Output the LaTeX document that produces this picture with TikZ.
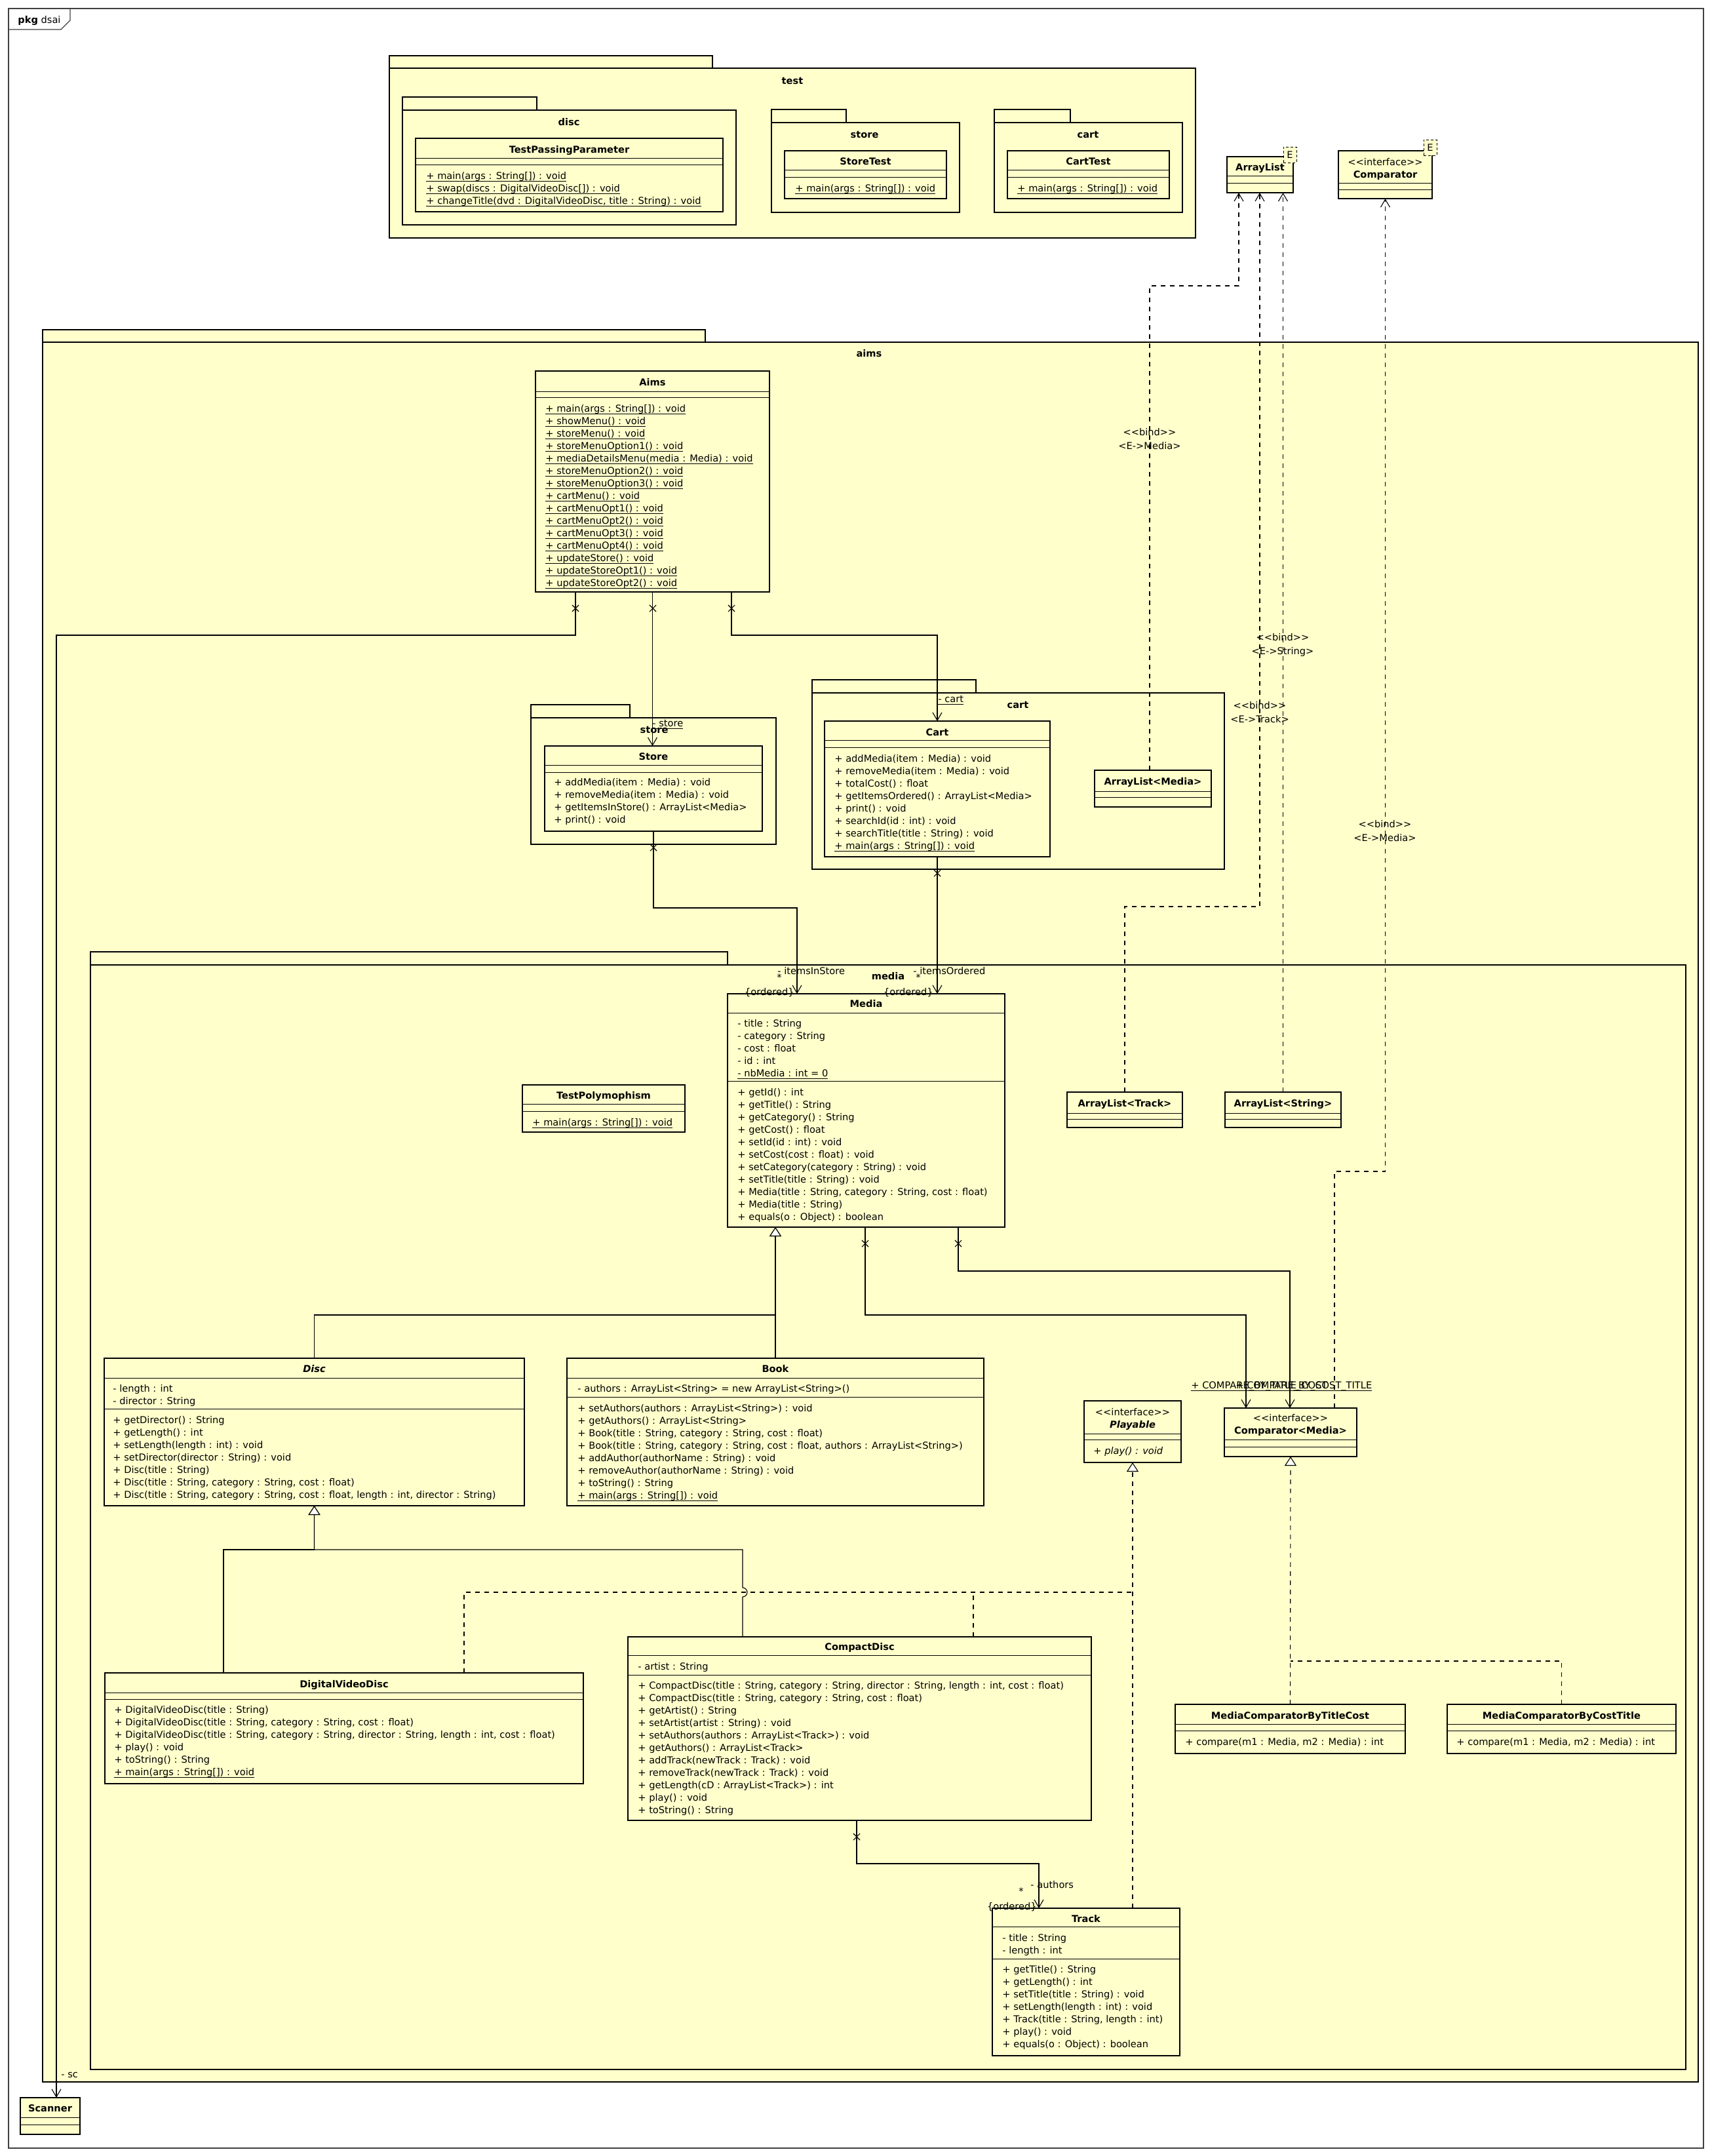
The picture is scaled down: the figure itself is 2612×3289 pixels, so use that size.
\documentclass[tikz,border=0pt]{standalone}
\usepackage{fontspec}
\setmainfont{DejaVu Sans}
\usetikzlibrary{arrows.meta,shapes.misc}
\definecolor{umlfill}{RGB}{255,255,204}
\newcommand\umlfont{\fontsize{7.3}{9.5}\selectfont}
\newcommand\fl{\rule{0pt}{7pt}}
\newcommand\stc[1]{{\setbox0=\hbox{#1}\rlap{\vrule height -1.4pt depth 1.9pt width \wd0}\box0}}
\newcommand\umlrect[6]{\node[#1, minimum width={(#5-#3)*0.5pt}, minimum height={(#6-#4)*0.5pt}] (#2) at (#3,#4) {};}
\newcommand\umlsep[2]{\draw[sep] (#1.west |- 0,#2) -- (#1.east |- 0,#2);}
\tikzset{
  pkg/.style={draw, fill=umlfill, line width=1.1pt, inner sep=0pt, outer sep=0pt, anchor=north west},
  cls/.style={draw, fill=umlfill, line width=1.4pt, inner sep=0pt, outer sep=0pt, anchor=north west},
  tparam/.style={draw, dash pattern=on 2pt off 1.5pt, fill=umlfill, line width=0.5pt, inner sep=0pt, outer sep=0pt, anchor=north west},
  sep/.style={line width=0.5pt},
  cname/.style={font=\umlfont\bfseries, inner sep=0pt, text height=5.3pt, text depth=0pt},
  pname/.style={cname},
  ctext/.style={font=\umlfont, inner sep=0pt, anchor=north west, align=left},
  stereo/.style={font=\umlfont, inner sep=0pt, anchor=north, align=center},
  bindlbl/.style={font=\fontsize{7.3}{10.5}\selectfont, inner sep=0pt, anchor=north, align=center},
  lbl/.style={font=\umlfont, inner sep=0pt, text height=5.3pt, text depth=0pt},
  xmark/.style={cross out, draw, line width=0.55pt, minimum size=4.5pt, inner sep=0pt},
  conn/.style={line width=0.55pt},
  assoc/.style={conn, -{Straight Barb[length=6pt,width=7pt]}},
  gen/.style={conn, -{Triangle[open,length=7pt,width=9pt,fill=white]}},
  realline/.style={conn, dash pattern=on 3.5pt off 3.5pt},
  real/.style={gen, dash pattern=on 3.5pt off 3.5pt},
  bind/.style={assoc, dash pattern=on 3.5pt off 3.5pt},
}
\begin{document}
\begin{tikzpicture}[x=0.5pt, y=-0.5pt]
\useasboundingbox (0,0) rectangle (2612,3289);
\fill[white] (0,0) rectangle (2612,3289);

% outer frame
\umlrect{draw=black!75, line width=0.6pt, inner sep=0pt, outer sep=0pt, anchor=north west}{dsai}{13}{13}{2599}{3277}
\draw[black!75, line width=0.6pt] (dsai.north west |- 0,45) -- (93,45) -- (107,31) -- (107,0 |- dsai.north);
\node[font=\umlfont, inner sep=0pt, anchor=west, text height=5.3pt, text depth=0pt] (dsai-l) at (27,30) {\textbf{pkg} dsai};

% ---------------- package test ----------------
\umlrect{pkg}{test-tab}{594}{85}{1087}{104}
\umlrect{pkg}{test}{594}{104}{1824}{363}
\node[pname] (test-l) at (1209,123) {test};

\umlrect{pkg}{tdisc-tab}{614}{148}{819}{168}
\umlrect{pkg}{tdisc}{614}{168}{1123}{343}
\node[pname] (tdisc-l) at (868,186) {disc};
\umlrect{cls}{tpp}{634}{211}{1103}{323}
\node[cname] (tpp-n) at (tpp.north |- 0,228) {TestPassingParameter};
\umlsep{tpp}{241}\umlsep{tpp}{251}
\node[ctext] (tpp-o) at (650,259) {\fl\stc{+ main(args : String[]) : void}\\
\stc{+ swap(discs : DigitalVideoDisc[]) : void}\\
\stc{+ changeTitle(dvd : DigitalVideoDisc, title : String) : void}};

\umlrect{pkg}{tstore-tab}{1177}{167}{1291}{187}
\umlrect{pkg}{tstore}{1177}{187}{1464}{324}
\node[pname] (tstore-l) at (1319,205) {store};
\umlrect{cls}{st}{1197}{230}{1444}{303}
\node[cname] (st-n) at (st.north |- 0,246) {StoreTest};
\umlsep{st}{259}\umlsep{st}{270}
\node[ctext] (st-o) at (1213,278) {\fl\stc{+ main(args : String[]) : void}};

\umlrect{pkg}{tcart-tab}{1517}{167}{1633}{187}
\umlrect{pkg}{tcart}{1517}{187}{1804}{324}
\node[pname] (tcart-l) at (1660,205) {cart};
\umlrect{cls}{ct}{1537}{230}{1784}{303}
\node[cname] (ct-n) at (ct.north |- 0,246) {CartTest};
\umlsep{ct}{259}\umlsep{ct}{270}
\node[ctext] (ct-o) at (1552,278) {\fl\stc{+ main(args : String[]) : void}};

% ---------------- generic library types ----------------
\umlrect{cls}{arraylist}{1872}{239}{1973}{294}
\node[cname] (arraylist-n) at (arraylist.north |- 0,255) {ArrayList};
\umlsep{arraylist}{268}\umlsep{arraylist}{279}
\umlrect{tparam}{arraylist-e}{1958}{224}{1978}{248}
\node[lbl] (arraylist-el) at (arraylist-e) {E};

\umlrect{cls}{comparator}{2042}{230}{2185}{303}
\node[stereo] (comparator-n) at (comparator.north |- 0,238) {\fl<{}<interface>{}>\\\textbf{Comparator}};
\umlsep{comparator}{279}\umlsep{comparator}{289}
\umlrect{tparam}{comparator-e}{2172}{213}{2192}{237}
\node[lbl] (comparator-el) at (comparator-e) {E};

% ---------------- package aims ----------------
\umlrect{pkg}{aims-tab}{65}{503}{1076}{522}
\umlrect{pkg}{aimspkg}{65}{522}{2591}{3176}
\node[pname] (aims-l) at (1326,539) {aims};

\umlrect{cls}{aims}{817}{566}{1174}{903}
\node[cname] (aims-n) at (aims.north |- 0,583) {Aims};
\umlsep{aims}{597}\umlsep{aims}{606}
\node[ctext] (aims-o) at (832,614) {\fl\stc{+ main(args : String[]) : void}\\
\stc{+ showMenu() : void}\\
\stc{+ storeMenu() : void}\\
\stc{+ storeMenuOption1() : void}\\
\stc{+ mediaDetailsMenu(media : Media) : void}\\
\stc{+ storeMenuOption2() : void}\\
\stc{+ storeMenuOption3() : void}\\
\stc{+ cartMenu() : void}\\
\stc{+ cartMenuOpt1() : void}\\
\stc{+ cartMenuOpt2() : void}\\
\stc{+ cartMenuOpt3() : void}\\
\stc{+ cartMenuOpt4() : void}\\
\stc{+ updateStore() : void}\\
\stc{+ updateStoreOpt1() : void}\\
\stc{+ updateStoreOpt2() : void}};

% package aims.store
\umlrect{pkg}{store-tab}{810}{1075}{961}{1095}
\umlrect{pkg}{storepkg}{810}{1095}{1184}{1288}
\node[pname] (store-l) at (998,1113) {store};
\umlrect{cls}{store}{831}{1138}{1163}{1268}
\node[cname] (store-n) at (store.north |- 0,1154) {Store};
\umlsep{store}{1167}\umlsep{store}{1178}
\node[ctext] (store-o) at (845,1184) {\fl+ addMedia(item : Media) : void\\
+ removeMedia(item : Media) : void\\
+ getItemsInStore() : ArrayList<Media>\\
+ print() : void};

% package aims.cart
\umlrect{pkg}{cart-tab}{1239}{1037}{1489}{1057}
\umlrect{pkg}{cartpkg}{1239}{1057}{1868}{1326}
\node[pname] (cart-l) at (1553,1075) {cart};
\umlrect{cls}{cart}{1258}{1100}{1602}{1307}
\node[cname] (cart-n) at (cart.north |- 0,1117) {Cart};
\umlsep{cart}{1129}\umlsep{cart}{1140}
\node[ctext] (cart-o) at (1273,1148) {\fl+ addMedia(item : Media) : void\\
+ removeMedia(item : Media) : void\\
+ totalCost() : float\\
+ getItemsOrdered() : ArrayList<Media>\\
+ print() : void\\
+ searchId(id : int) : void\\
+ searchTitle(title : String) : void\\
\stc{+ main(args : String[]) : void}};
\umlrect{cls}{alm}{1670}{1175}{1848}{1231}
\node[cname] (alm-n) at (alm.north |- 0,1192) {ArrayList<Media>};
\umlsep{alm}{1207}\umlsep{alm}{1216}

% package aims.media
\umlrect{pkg}{media-tab}{138}{1452}{1110}{1472}
\umlrect{pkg}{mediapkg}{138}{1472}{2572}{3157}
\node[pname] (media-l) at (1355,1489) {media};

\umlrect{cls}{media}{1110}{1516}{1533}{1872}
\node[cname] (media-n) at (media.north |- 0,1531) {Media};
\umlsep{media}{1545}
\node[ctext] (media-a) at (1125,1552) {\fl- title : String\\
- category : String\\
- cost : float\\
- id : int\\
\stc{- nbMedia : int = 0}};
\umlsep{media}{1649}
\node[ctext] (media-o) at (1125,1657) {\fl+ getId() : int\\
+ getTitle() : String\\
+ getCategory() : String\\
+ getCost() : float\\
+ setId(id : int) : void\\
+ setCost(cost : float) : void\\
+ setCategory(category : String) : void\\
+ setTitle(title : String) : void\\
+ Media(title : String, category : String, cost : float)\\
+ Media(title : String)\\
+ equals(o : Object) : boolean};

\umlrect{cls}{tpoly}{797}{1655}{1045}{1727}
\node[cname] (tpoly-n) at (tpoly.north |- 0,1671) {TestPolymophism};
\umlsep{tpoly}{1684}\umlsep{tpoly}{1695}
\node[ctext] (tpoly-o) at (812,1703) {\fl\stc{+ main(args : String[]) : void}};

\umlrect{cls}{alt}{1628}{1666}{1804}{1720}
\node[cname] (alt-n) at (alt.north |- 0,1683) {ArrayList<Track>};
\umlsep{alt}{1698}\umlsep{alt}{1707}
\umlrect{cls}{als}{1869}{1666}{2046}{1720}
\node[cname] (als-n) at (als.north |- 0,1683) {ArrayList<String>};
\umlsep{als}{1698}\umlsep{als}{1707}

\umlrect{cls}{disc}{159}{2072}{800}{2297}
\node[cname, font=\umlfont\bfseries\itshape] (disc-n) at (disc.north |- 0,2088) {Disc};
\umlsep{disc}{2102}
\node[ctext] (disc-a) at (172,2109) {\fl- length : int\\
- director : String};
\umlsep{disc}{2149}
\node[ctext] (disc-o) at (172,2157) {\fl+ getDirector() : String\\
+ getLength() : int\\
+ setLength(length : int) : void\\
+ setDirector(director : String) : void\\
+ Disc(title : String)\\
+ Disc(title : String, category : String, cost : float)\\
+ Disc(title : String, category : String, cost : float, length : int, director : String)};

\umlrect{cls}{book}{865}{2072}{1501}{2297}
\node[cname] (book-n) at (book.north |- 0,2088) {Book};
\umlsep{book}{2102}
\node[ctext] (book-a) at (881,2109) {\fl- authors : ArrayList<String> = new ArrayList<String>()};
\umlsep{book}{2131}
\node[ctext] (book-o) at (881,2139) {\fl+ setAuthors(authors : ArrayList<String>) : void\\
+ getAuthors() : ArrayList<String>\\
+ Book(title : String, category : String, cost : float)\\
+ Book(title : String, category : String, cost : float, authors : ArrayList<String>)\\
+ addAuthor(authorName : String) : void\\
+ removeAuthor(authorName : String) : void\\
+ toString() : String\\
\stc{+ main(args : String[]) : void}};

\umlrect{cls}{playable}{1654}{2137}{1802}{2231}
\node[stereo] (playable-n) at (playable.north |- 0,2145) {\fl<{}<interface>{}>\\\textbf{\textit{Playable}}};
\umlsep{playable}{2187}\umlsep{playable}{2196}
\node[ctext, font=\umlfont\itshape] (playable-o) at (1668,2204) {\fl+ play() : void};

\umlrect{cls}{cmpm}{1868}{2148}{2070}{2222}
\node[stereo] (cmpm-n) at (cmpm.north |- 0,2154) {\fl<{}<interface>{}>\\\textbf{Comparator<Media>}};
\umlsep{cmpm}{2196}\umlsep{cmpm}{2207}

\umlrect{cls}{dvd}{160}{2552}{890}{2721}
\node[cname] (dvd-n) at (dvd.north |- 0,2569) {DigitalVideoDisc};
\umlsep{dvd}{2582}\umlsep{dvd}{2592}
\node[ctext] (dvd-o) at (174,2599) {\fl+ DigitalVideoDisc(title : String)\\
+ DigitalVideoDisc(title : String, category : String, cost : float)\\
+ DigitalVideoDisc(title : String, category : String, director : String, length : int, cost : float)\\
+ play() : void\\
+ toString() : String\\
\stc{+ main(args : String[]) : void}};

\umlrect{cls}{cd}{958}{2497}{1665}{2777}
\node[cname] (cd-n) at (cd.north |- 0,2512) {CompactDisc};
\umlsep{cd}{2525}
\node[ctext] (cd-a) at (973,2533) {\fl- artist : String};
\umlsep{cd}{2555}
\node[ctext] (cd-o) at (973,2562) {\fl+ CompactDisc(title : String, category : String, director : String, length : int, cost : float)\\
+ CompactDisc(title : String, category : String, cost : float)\\
+ getArtist() : String\\
+ setArtist(artist : String) : void\\
+ setAuthors(authors : ArrayList<Track>) : void\\
+ getAuthors() : ArrayList<Track>\\
+ addTrack(newTrack : Track) : void\\
+ removeTrack(newTrack : Track) : void\\
+ getLength(cD : ArrayList<Track>) : int\\
+ play() : void\\
+ toString() : String};

\umlrect{cls}{track}{1514}{2911}{1800}{3136}
\node[cname] (track-n) at (track.north |- 0,2927) {Track};
\umlsep{track}{2939}
\node[ctext] (track-a) at (1529,2947) {\fl- title : String\\
- length : int};
\umlsep{track}{2988}
\node[ctext] (track-o) at (1529,2995) {\fl+ getTitle() : String\\
+ getLength() : int\\
+ setTitle(title : String) : void\\
+ setLength(length : int) : void\\
+ Track(title : String, length : int)\\
+ play() : void\\
+ equals(o : Object) : boolean};

\umlrect{cls}{mctc}{1793}{2600}{2144}{2675}
\node[cname] (mctc-n) at (mctc.north |- 0,2617) {MediaComparatorByTitleCost};
\umlsep{mctc}{2630}\umlsep{mctc}{2640}
\node[ctext] (mctc-o) at (1808,2648) {\fl+ compare(m1 : Media, m2 : Media) : int};

\umlrect{cls}{mcct}{2208}{2600}{2557}{2675}
\node[cname] (mcct-n) at (mcct.north |- 0,2617) {MediaComparatorByCostTitle};
\umlsep{mcct}{2630}\umlsep{mcct}{2640}
\node[ctext] (mcct-o) at (2222,2648) {\fl+ compare(m1 : Media, m2 : Media) : int};

% Scanner, outside aims
\umlrect{cls}{scanner}{31}{3200}{122}{3256}
\node[cname] (scanner-n) at (scanner.north |- 0,3216) {Scanner};
\umlsep{scanner}{3230}\umlsep{scanner}{3241}

% ---------------- associations ----------------
\draw[assoc] (878,0 |- aims.south) |- (86,969) -- (86,0 |- scanner.north);
\draw[assoc] (aims.south) -- (aims.south |- store.north);
\draw[assoc] (1116,0 |- aims.south) |- (cart.north |- 0,969) -- (cart.north);
\draw[assoc] (store.south) |- (1216,1385) -- (1216,0 |- media.north);
\draw[assoc] (cart.south) -- (cart.south |- media.north);
\draw[assoc] (1320,0 |- media.south) |- (1901,2006) -- (1901,0 |- cmpm.north);
\draw[assoc] (1462,0 |- media.south) |- (1968,1939) -- (1968,0 |- cmpm.north);
\draw[assoc] (1307,0 |- cd.south) |- (1585,2843) -- (1585,0 |- track.north);

\node[xmark] (x-sc) at (878,928) {};
\node[xmark] (x-store) at (996,928) {};
\node[xmark] (x-cart) at (1116,928) {};
\node[xmark] (x-items) at (997,1293) {};
\node[xmark] (x-ordered) at (1430,1332) {};
\node[xmark] (x-tc) at (1320,1897) {};
\node[xmark] (x-ct) at (1462,1897) {};
\node[xmark] (x-authors) at (1307,2802) {};

\node[lbl, anchor=west] (r-sc) at (93,3164) {- sc};
\node[lbl, anchor=west] (r-store) at (995,1103) {\stc{- store}};
\node[lbl, anchor=west] (r-cart) at (1431,1066) {\stc{- cart}};
\node[lbl, anchor=west] (r-instore) at (1186,1481) {- itemsInStore};
\node[lbl] (m-instore) at (1189,1491) {*};
\node[lbl, anchor=east] (o-instore) at (1212,1513) {\{ordered\}};
\node[lbl, anchor=west] (r-ordered) at (1393,1481) {- itemsOrdered};
\node[lbl] (m-ordered) at (1401,1491) {*};
\node[lbl, anchor=east] (o-ordered) at (1424,1513) {\{ordered\}};
\node[lbl, anchor=west] (r-authors) at (1572,2875) {- authors};
\node[lbl] (m-authors) at (1558,2885) {*};
\node[lbl, anchor=east] (o-authors) at (1582,2908) {\{ordered\}};
\node[lbl, anchor=west] (r-tc) at (1817,2113) {\stc{+ COMPARE\_BY\_TITLE\_COST}};
\node[lbl, anchor=west] (r-ct) at (1885,2113) {\stc{+ COMPARE\_BY\_COST\_TITLE}};

% ---------------- generalizations ----------------
\draw[gen] (disc.north) |- (book.north |- 0,2006) -- (book.north |- media.south);
\draw[gen] (book.north) -- (book.north |- media.south);
\draw[gen] (341,0 |- dvd.north) |- (disc.south |- 0,2364) -- (disc.south);
\draw[gen] (1133,0 |- cd.north) -- (1133,2436) arc[start angle=90, end angle=-90, radius=7] -- (1133,2364) -| (disc.south);

% ---------------- realizations ----------------
\draw[realline] (708,0 |- dvd.north) |- (playable.south |- 0,2429);
\draw[realline] (1485,0 |- cd.north) -- (1485,2429);
\draw[real] (playable.south |- track.north) -- (playable.south);
\draw[real] (mctc.north) -- (cmpm.south);
\draw[realline] (mcct.north) |- (mctc.north |- 0,2534);

% ---------------- template bindings ----------------
\draw[bind] (1754,0 |- alm.north) |- (1890,436) -- (1890,0 |- arraylist.south);
\draw[bind] (alt.north) |- (1922,1383) -- (1922,0 |- arraylist.south);
\draw[bind] (als.north) -- (als.north |- arraylist.south);
\draw[bind] (2036,0 |- cmpm.north) |- (comparator.south |- 0,1787) -- (comparator.south);
\node[bindlbl] (b-alm) at (1754,650) {\fl<{}<bind>{}>\\<E->Media>};
\node[bindlbl] (b-alt) at (1922,1067) {\fl<{}<bind>{}>\\<E->Track>};
\node[bindlbl] (b-als) at (1957,963) {\fl<{}<bind>{}>\\<E->String>};
\node[bindlbl] (b-cmp) at (2113,1248) {\fl<{}<bind>{}>\\<E->Media>};
\end{tikzpicture}
\end{document}
